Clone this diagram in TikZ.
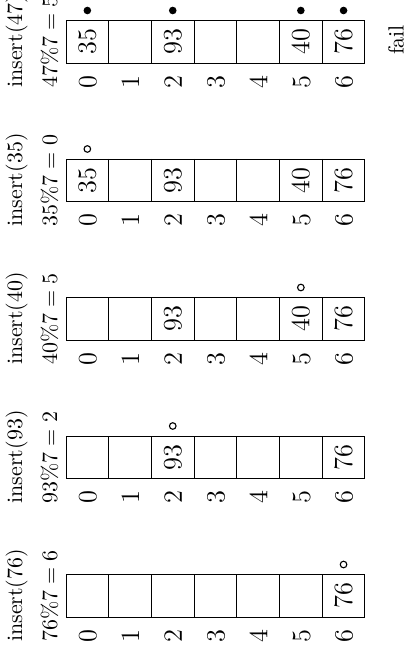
\documentclass[tikz,border=0pt]{standalone}
\usepackage{amsmath}

\begin{document}
\begin{tikzpicture}[x=0.455pt,y=0.455pt,yscale=-1,xscale=1,
  every node/.style={rotate=90,inner sep=0.75pt},
  slotdot/.style={line width=0.5pt},
  slotidx/.style={font=\large},
  slotkey/.style={font=\large},
  probe/.style={anchor=base west}]
\useasboundingbox (0,0) rectangle (408,658);

%% ---- insert(76) ----
%Shape: Rectangle [slots]
\draw (66,574.5) rectangle (364.9,617);
\draw (108.7,574.5) -- (108.7,617) (151.4,574.5) -- (151.4,617) (194.1,574.5) -- (194.1,617) (236.8,574.5) -- (236.8,617) (279.5,574.5) -- (279.5,617) (322.2,574.5) -- (322.2,617);
% Text Node
\draw (22,644) node [probe] (aop) {insert(76)};
\draw (57,644) node [probe] (amod) {$76\%7 = 6$};
\draw (88,636) node [slotidx] (ai0) {$0$};
\draw (130.7,636) node [slotidx] (ai1) {$1$};
\draw (173.4,636) node [slotidx] (ai2) {$2$};
\draw (216.1,636) node [slotidx] (ai3) {$3$};
\draw (258.8,636) node [slotidx] (ai4) {$4$};
\draw (301.5,636) node [slotidx] (ai5) {$5$};
\draw (344.2,636) node [slotidx] (ai6) {$6$};
\draw (343.55,595.75) node [slotkey] (ac6) {$76$};
%Shape: Circle
\draw [slotdot] (343.55,564.5) circle (3.3);

%% ---- insert(93) ----
%Shape: Rectangle [slots]
\draw (66,436) rectangle (364.9,478.5);
\draw (108.7,436) -- (108.7,478.5) (151.4,436) -- (151.4,478.5) (194.1,436) -- (194.1,478.5) (236.8,436) -- (236.8,478.5) (279.5,436) -- (279.5,478.5) (322.2,436) -- (322.2,478.5);
% Text Node
\draw (22,505.5) node [probe] (bop) {insert(93)};
\draw (57,505.5) node [probe] (bmod) {$93\%7 = 2$};
\draw (88,497.5) node [slotidx] (bi0) {$0$};
\draw (130.7,497.5) node [slotidx] (bi1) {$1$};
\draw (173.4,497.5) node [slotidx] (bi2) {$2$};
\draw (216.1,497.5) node [slotidx] (bi3) {$3$};
\draw (258.8,497.5) node [slotidx] (bi4) {$4$};
\draw (301.5,497.5) node [slotidx] (bi5) {$5$};
\draw (344.2,497.5) node [slotidx] (bi6) {$6$};
\draw (172.75,457.25) node [slotkey] (bc2) {$93$};
\draw (343.55,457.25) node [slotkey] (bc6) {$76$};
%Shape: Circle
\draw [slotdot] (172.75,426) circle (3.3);

%% ---- insert(40) ----
%Shape: Rectangle [slots]
\draw (66,297.5) rectangle (364.9,340);
\draw (108.7,297.5) -- (108.7,340) (151.4,297.5) -- (151.4,340) (194.1,297.5) -- (194.1,340) (236.8,297.5) -- (236.8,340) (279.5,297.5) -- (279.5,340) (322.2,297.5) -- (322.2,340);
% Text Node
\draw (22,367) node [probe] (cop) {insert(40)};
\draw (57,367) node [probe] (cmod) {$40\%7 = 5$};
\draw (88,359) node [slotidx] (ci0) {$0$};
\draw (130.7,359) node [slotidx] (ci1) {$1$};
\draw (173.4,359) node [slotidx] (ci2) {$2$};
\draw (216.1,359) node [slotidx] (ci3) {$3$};
\draw (258.8,359) node [slotidx] (ci4) {$4$};
\draw (301.5,359) node [slotidx] (ci5) {$5$};
\draw (344.2,359) node [slotidx] (ci6) {$6$};
\draw (172.75,318.75) node [slotkey] (cc2) {$93$};
\draw (300.85,318.75) node [slotkey] (cc5) {$40$};
\draw (343.55,318.75) node [slotkey] (cc6) {$76$};
%Shape: Circle
\draw [slotdot] (300.85,287.5) circle (3.3);

%% ---- insert(35) ----
%Shape: Rectangle [slots]
\draw (66,159) rectangle (364.9,201.5);
\draw (108.7,159) -- (108.7,201.5) (151.4,159) -- (151.4,201.5) (194.1,159) -- (194.1,201.5) (236.8,159) -- (236.8,201.5) (279.5,159) -- (279.5,201.5) (322.2,159) -- (322.2,201.5);
% Text Node
\draw (22,228.5) node [probe] (dop) {insert(35)};
\draw (57,228.5) node [probe] (dmod) {$35\%7 = 0$};
\draw (88,220.5) node [slotidx] (di0) {$0$};
\draw (130.7,220.5) node [slotidx] (di1) {$1$};
\draw (173.4,220.5) node [slotidx] (di2) {$2$};
\draw (216.1,220.5) node [slotidx] (di3) {$3$};
\draw (258.8,220.5) node [slotidx] (di4) {$4$};
\draw (301.5,220.5) node [slotidx] (di5) {$5$};
\draw (344.2,220.5) node [slotidx] (di6) {$6$};
\draw (87.35,180.25) node [slotkey] (dc0) {$35$};
\draw (172.75,180.25) node [slotkey] (dc2) {$93$};
\draw (300.85,180.25) node [slotkey] (dc5) {$40$};
\draw (343.55,180.25) node [slotkey] (dc6) {$76$};
%Shape: Circle
\draw [slotdot] (87.35,149) circle (3.3);

%% ---- insert(47) ----
%Shape: Rectangle [slots]
\draw (66,20.5) rectangle (364.9,63);
\draw (108.7,20.5) -- (108.7,63) (151.4,20.5) -- (151.4,63) (194.1,20.5) -- (194.1,63) (236.8,20.5) -- (236.8,63) (279.5,20.5) -- (279.5,63) (322.2,20.5) -- (322.2,63);
% Text Node
\draw (22,90) node [probe] (eop) {insert(47)};
\draw (57,90) node [probe] (emod) {$47\%7 = 5$};
\draw (88,82) node [slotidx] (ei0) {$0$};
\draw (130.7,82) node [slotidx] (ei1) {$1$};
\draw (173.4,82) node [slotidx] (ei2) {$2$};
\draw (216.1,82) node [slotidx] (ei3) {$3$};
\draw (258.8,82) node [slotidx] (ei4) {$4$};
\draw (301.5,82) node [slotidx] (ei5) {$5$};
\draw (344.2,82) node [slotidx] (ei6) {$6$};
\draw (87.35,41.75) node [slotkey] (ec0) {$35$};
\draw (172.75,41.75) node [slotkey] (ec2) {$93$};
\draw (300.85,41.75) node [slotkey] (ec5) {$40$};
\draw (343.55,41.75) node [slotkey] (ec6) {$76$};
%Shape: Circle
\fill (87.35,10.5) circle (3.8);
\fill (172.75,10.5) circle (3.8);
\fill (300.85,10.5) circle (3.8);
\fill (343.55,10.5) circle (3.8);
% Text Node
\draw (396,40) node (fail) {fail};
\end{tikzpicture}
\end{document}
